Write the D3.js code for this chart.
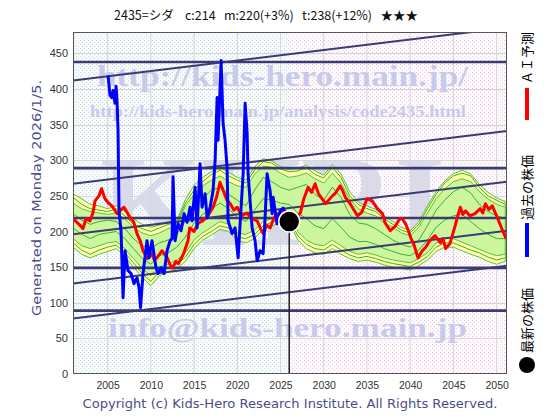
<!DOCTYPE html>
<html>
<head>
<meta charset="utf-8">
<script src="https://cdn.jsdelivr.net/npm/d3@7"></script>
<style>
  body { margin: 0; background: #fff; }
  svg { display: block; }
</style>
</head>
<body>
<svg id="chart" width="560" height="420"></svg>
<script>
// ---- data ----
const xTicks = [2005, 2010, 2015, 2020, 2025, 2030, 2035, 2040, 2045, 2050];
const yTicks = [0, 50, 100, 150, 200, 250, 300, 350, 400, 450];

const latest = {year: 2026.01, value: 214};

// horizontal support / resistance levels
const hLevels = [438, 289, 219, 149, 89];
// rising channel lines: value at 2001 and at 2051.2
const channelStart = [412, 267, 196, 127, 78];
const channelEnd = [486, 341, 270, 201, 152];

// similar-pattern band, one value per year 2001..2051
const bandYears = d3.range(2001, 2052);
const outerHi = [253, 246, 238, 236, 232, 236, 228, 218, 210, 206, 209, 214, 215, 245, 265, 276, 284, 290, 283, 276,
  272, 291, 302, 299, 291, 287, 289, 293, 285, 279, 294, 281, 256, 241, 236, 231, 222, 214, 206, 201,
  214, 236, 256, 271, 281, 286, 281, 266, 255, 247, 242];
const outerLo = [178, 168, 163, 168, 172, 176, 165, 150, 136, 124, 138, 143, 148, 158, 176, 188, 195, 203, 200, 188,
  184, 190, 203, 208, 212, 214, 188, 176, 170, 168, 176, 168, 162, 158, 160, 157, 153, 150, 148, 146,
  152, 160, 172, 178, 178, 173, 168, 164, 158, 154, 158];
const innerHi = [240, 232, 228, 226, 224, 226, 218, 206, 198, 194, 198, 204, 208, 236, 252, 264, 272, 278, 270, 264,
  262, 280, 292, 290, 282, 276, 278, 282, 274, 268, 282, 268, 246, 232, 226, 222, 212, 206, 198, 194,
  206, 226, 246, 260, 270, 274, 270, 256, 246, 238, 234];
const innerLo = [190, 180, 176, 180, 184, 186, 176, 162, 148, 138, 150, 154, 160, 170, 188, 198, 206, 214, 210, 198,
  196, 202, 214, 218, 222, 222, 200, 188, 182, 180, 188, 180, 172, 168, 170, 167, 163, 160, 158, 156,
  162, 170, 184, 190, 190, 185, 180, 175, 170, 166, 168];
const green1 = [248, 238, 232, 230, 228, 232, 222, 210, 204, 200, 205, 210, 212, 240, 258, 270, 280, 286, 278, 272,
  268, 286, 298, 296, 288, 284, 285, 290, 280, 275, 290, 276, 250, 238, 232, 228, 218, 210, 202, 198,
  210, 232, 252, 268, 278, 282, 278, 262, 250, 244, 238];
const green2 = [225, 216, 210, 214, 216, 214, 204, 190, 180, 176, 184, 188, 196, 214, 236, 246, 258, 262, 252, 244,
  236, 258, 276, 270, 262, 258, 262, 266, 252, 244, 262, 248, 224, 212, 210, 204, 196, 188, 182, 178,
  188, 208, 230, 244, 256, 262, 254, 238, 228, 222, 218];
const green3 = [205, 196, 190, 196, 198, 200, 190, 176, 162, 154, 166, 170, 178, 192, 212, 224, 232, 240, 232, 220,
  214, 230, 246, 244, 240, 238, 226, 218, 208, 204, 218, 206, 192, 186, 186, 182, 176, 172, 168, 166,
  174, 188, 206, 216, 222, 224, 214, 204, 196, 190, 190];
const green4 = [184, 174, 168, 174, 178, 181, 170, 156, 141, 130, 144, 148, 154, 164, 182, 193, 200, 208, 205, 192,
  190, 196, 208, 213, 217, 218, 194, 182, 176, 174, 182, 174, 167, 163, 165, 162, 158, 155, 153, 151,
  157, 165, 178, 184, 184, 179, 174, 170, 164, 160, 163];

// AI forecast (red) [year, value]
const aiPred = [
  [2001.0, 219], [2001.35, 214], [2001.7, 210], [2002.16, 204], [2002.5, 218], [2002.97, 215], [2003.3, 226],
  [2003.55, 243], [2004.0, 250], [2004.3, 260], [2004.7, 246], [2005.1, 240], [2005.5, 236], [2006.1, 225],
  [2006.5, 230], [2006.9, 234], [2007.3, 226], [2007.6, 219], [2008.0, 214], [2008.4, 197], [2008.8, 186],
  [2009.1, 173], [2009.6, 162], [2010.1, 169], [2010.4, 160], [2010.7, 163], [2011.3, 173], [2011.9, 163],
  [2012.2, 154], [2012.5, 149], [2012.9, 158], [2013.2, 155], [2013.8, 169], [2014.3, 187], [2014.5, 205],
  [2015.0, 200], [2015.5, 212], [2016.0, 215], [2016.6, 222], [2017.2, 234], [2017.6, 248], [2018.0, 269],
  [2018.4, 257], [2018.8, 244], [2019.2, 239], [2019.6, 230], [2020.0, 234], [2020.5, 222], [2021.1, 226],
  [2021.7, 218], [2022.3, 215], [2022.7, 204], [2023.0, 197], [2023.4, 209], [2023.8, 205], [2024.2, 218],
  [2024.6, 225], [2025.0, 221], [2025.3, 232], [2025.7, 226], [2026.1, 222], [2026.7, 218], [2027.3, 226],
  [2027.7, 246], [2028.2, 262], [2028.6, 255], [2029.0, 267], [2029.4, 253], [2029.8, 246], [2030.2, 239],
  [2030.5, 243], [2031.0, 250], [2031.3, 253], [2031.9, 264], [2032.2, 257], [2032.5, 248], [2033.0, 240],
  [2033.3, 234], [2033.9, 222], [2034.4, 227], [2034.7, 236], [2035.0, 246], [2035.6, 243], [2036.2, 232],
  [2036.8, 225], [2037.1, 212], [2037.7, 201], [2038.3, 208], [2038.8, 218], [2039.1, 218], [2039.5, 210],
  [2039.8, 201], [2040.1, 190], [2040.4, 183], [2040.9, 163], [2041.4, 173], [2041.8, 178], [2042.1, 184],
  [2042.5, 190], [2042.9, 194], [2043.5, 184], [2043.8, 190], [2044.1, 176], [2044.6, 183], [2045.2, 208],
  [2045.5, 222], [2045.8, 234], [2046.1, 224], [2046.4, 229], [2046.9, 222], [2047.5, 225], [2048.1, 232],
  [2048.4, 226], [2048.7, 239], [2049.1, 231], [2049.5, 236], [2050.1, 219], [2050.7, 201], [2051.1, 190]
];

// past price (blue) [year, value]
const pastPrice = [
  [2005.05, 419], [2005.28, 391], [2005.48, 388], [2005.63, 398], [2005.86, 380], [2005.98, 404], [2006.09, 384],
  [2006.21, 342], [2006.32, 229], [2006.56, 200], [2006.79, 107], [2007.02, 173], [2007.37, 145], [2007.71, 141],
  [2008.06, 127], [2008.41, 135], [2008.64, 121], [2008.81, 93], [2009.1, 141], [2009.56, 187], [2009.8, 163],
  [2010.14, 187], [2010.6, 149], [2010.84, 141], [2011.19, 149], [2011.53, 141], [2011.88, 173], [2012.23, 187],
  [2012.46, 190], [2012.57, 277], [2012.81, 187], [2013.15, 211], [2013.5, 201], [2013.85, 225], [2014.2, 213],
  [2014.54, 234], [2014.77, 215], [2015.12, 262], [2015.35, 205], [2015.7, 295], [2015.93, 234], [2016.28, 253],
  [2016.51, 219], [2016.86, 234], [2017.2, 257], [2017.44, 300], [2017.67, 388], [2017.78, 328], [2018.13, 440],
  [2018.36, 352], [2018.59, 328], [2018.82, 290], [2018.94, 215], [2019.4, 197], [2019.75, 205], [2020.1, 163],
  [2020.33, 211], [2020.68, 281], [2020.91, 380], [2021.14, 338], [2021.25, 281], [2021.72, 205], [2022.06, 187],
  [2022.3, 159], [2022.64, 173], [2022.99, 169], [2023.22, 220], [2023.45, 281], [2023.8, 257], [2024.03, 225],
  [2024.15, 248], [2024.6, 211], [2024.96, 229], [2025.3, 233], [2025.65, 220], [2026.01, 214]
];

// ---- drawing ----
const plotLeft = 73, plotRight = 507, plotTop = 32, plotBottom = 374;
const navy = '#3b3b74';

let svg = d3.select('#chart');

let x = d3.scaleLinear().domain([2001, 2051.2]).range([plotLeft, plotRight]);
let y = d3.scaleLinear().domain([0, 480]).range([plotBottom, plotTop]);

let defs = svg.append('defs');
defs.append('clipPath').attr('id', 'plotClip')
    .append('rect')
    .attr('x', plotLeft).attr('y', plotTop)
    .attr('width', plotRight - plotLeft).attr('height', plotBottom - plotTop);

// dotted backgrounds, faint
let pPast = defs.append('pattern').attr('id', 'pastBg')
    .attr('width', 4).attr('height', 4).attr('patternUnits', 'userSpaceOnUse');
pPast.append('rect').attr('width', 4).attr('height', 4).attr('fill', '#f7fbfb');
pPast.append('rect').attr('x', 0).attr('y', 0).attr('width', 1).attr('height', 1).attr('fill', '#bfe0e5');
pPast.append('rect').attr('x', 2).attr('y', 2).attr('width', 1).attr('height', 1).attr('fill', '#d4d4d4');

let pFut = defs.append('pattern').attr('id', 'futBg')
    .attr('width', 4).attr('height', 4).attr('patternUnits', 'userSpaceOnUse');
pFut.append('rect').attr('width', 4).attr('height', 4).attr('fill', '#fdf9fd');
pFut.append('rect').attr('x', 0).attr('y', 0).attr('width', 1).attr('height', 1).attr('fill', '#efc3ea');
pFut.append('rect').attr('x', 2).attr('y', 2).attr('width', 1).attr('height', 1).attr('fill', '#dadada');

// background
svg.append('rect')
    .attr('x', plotLeft).attr('y', plotTop)
    .attr('width', x(latest.year) - plotLeft).attr('height', plotBottom - plotTop)
    .attr('fill', 'url(#pastBg)');
svg.append('rect')
    .attr('x', x(latest.year)).attr('y', plotTop)
    .attr('width', plotRight - x(latest.year)).attr('height', plotBottom - plotTop)
    .attr('fill', 'url(#futBg)');

// grid
svg.append('g').selectAll('line')
    .data(xTicks).enter().append('line')
    .attr('x1', d => x(d)).attr('x2', d => x(d))
    .attr('y1', plotTop).attr('y2', plotBottom)
    .attr('stroke', '#d6d6d6').attr('stroke-width', 1);
svg.append('g').selectAll('line')
    .data(yTicks.slice(1)).enter().append('line')
    .attr('x1', plotLeft).attr('x2', plotRight)
    .attr('y1', d => Math.round(y(d)) + 0.5).attr('y2', d => Math.round(y(d)) + 0.5)
    .attr('stroke', '#d6d6d6').attr('stroke-width', 1);

let plot = svg.append('g').attr('clip-path', 'url(#plotClip)');

// watermarks
plot.append('text')
    .attr('x', 100).attr('y', 245)
    .attr('textLength', 345).attr('lengthAdjust', 'spacingAndGlyphs')
    .style('font', 'bold 130px "Liberation Serif", serif')
    .attr('fill', '#d4d4e6').attr('opacity', 0.8)
    .text('KHRI');
plot.append('text')
    .attr('x', 97).attr('y', 86)
    .attr('textLength', 371).attr('lengthAdjust', 'spacingAndGlyphs')
    .style('font', 'bold 30px "Liberation Serif", serif')
    .attr('fill', '#c9c9ec')
    .text('http://kids-hero.main.jp/');
plot.append('text')
    .attr('x', 90).attr('y', 117)
    .attr('textLength', 376).attr('lengthAdjust', 'spacingAndGlyphs')
    .style('font', 'bold 17px "Liberation Serif", serif')
    .attr('fill', '#c9c9ec')
    .text('http://kids-hero.main.jp/analysis/code2435.html');
plot.append('text')
    .attr('x', 108).attr('y', 337)
    .attr('textLength', 359).attr('lengthAdjust', 'spacingAndGlyphs')
    .style('font', 'bold 27px "Liberation Serif", serif')
    .attr('fill', '#c9c9ec')
    .text('info@kids-hero.main.jp');

// similar-pattern band
let area = (hi, lo) => d3.area()
    .x((d, i) => x(bandYears[i]))
    .y0((d, i) => y(lo[i]))
    .y1((d, i) => y(hi[i]));

plot.append('path')
    .attr('d', area(outerHi, outerLo)(bandYears))
    .attr('fill', '#ffffaa')
    .attr('stroke', '#55c040').attr('stroke-width', 1);
plot.append('path')
    .attr('d', area(innerHi, innerLo)(bandYears))
    .attr('fill', '#c6f59c').attr('fill-opacity', 0.9)
    .attr('stroke', '#55c040').attr('stroke-width', 1);

let gLine = d3.line().x((d, i) => x(bandYears[i])).y(d => y(d));
[green1, green2, green3, green4].forEach(s => {
    plot.append('path')
        .attr('d', gLine(s))
        .attr('fill', 'none')
        .attr('stroke', '#3cb030').attr('stroke-width', 1);
});

// horizontal levels
plot.append('g').selectAll('line')
    .data(hLevels).enter().append('line')
    .attr('x1', plotLeft).attr('x2', plotRight)
    .attr('y1', d => y(d)).attr('y2', d => y(d))
    .attr('stroke', navy).attr('stroke-width', 2.6);

// channel lines
plot.append('g').selectAll('line')
    .data(channelStart).enter().append('line')
    .attr('x1', x(2001)).attr('x2', x(2051.2))
    .attr('y1', d => y(d)).attr('y2', (d, i) => y(channelEnd[i]))
    .attr('stroke', navy).attr('stroke-width', 2);

let line = d3.line().x(d => x(d[0])).y(d => y(d[1]));

// AI forecast
plot.append('path')
    .attr('d', line(aiPred))
    .attr('fill', 'none')
    .attr('stroke', '#ff0000').attr('stroke-width', 3)
    .attr('stroke-linejoin', 'round');

// past price
plot.append('path')
    .attr('d', line(pastPrice))
    .attr('fill', 'none')
    .attr('stroke', '#0000ff').attr('stroke-width', 3)
    .attr('stroke-linejoin', 'round');

// latest price marker
svg.append('line')
    .attr('x1', x(latest.year)).attr('x2', x(latest.year))
    .attr('y1', y(latest.value)).attr('y2', plotBottom)
    .attr('stroke', '#222').attr('stroke-width', 1.5);
svg.append('circle')
    .attr('cx', x(latest.year)).attr('cy', y(latest.value))
    .attr('r', 10.5)
    .attr('fill', '#000').attr('stroke', '#fff').attr('stroke-width', 1.5);

// frame
svg.append('rect')
    .attr('x', plotLeft + 0.5).attr('y', plotTop + 0.5)
    .attr('width', plotRight - plotLeft - 1).attr('height', plotBottom - plotTop - 1)
    .attr('fill', 'none').attr('stroke', '#555').attr('stroke-width', 1);

// axes
let yAxis = svg.append('g')
    .attr('transform', 'translate(' + plotLeft + ',0)')
    .call(d3.axisLeft(y).tickValues(yTicks).tickSize(0).tickPadding(5));
yAxis.select('.domain').remove();
yAxis.selectAll('text')
    .style('font', '11px "Liberation Sans", Arial, sans-serif')
    .attr('fill', '#333');

let xAxis = svg.append('g')
    .attr('transform', 'translate(0,' + plotBottom + ')')
    .call(d3.axisBottom(x).tickValues(xTicks).tickFormat(d3.format('d')).tickSize(0).tickPadding(8));
xAxis.select('.domain').remove();
xAxis.selectAll('text')
    .style('font', '10.5px "Liberation Sans", Arial, sans-serif')
    .attr('fill', '#333');

// title
svg.append('text')
    .attr('x', 266).attr('y', 20)
    .attr('text-anchor', 'middle')
    .style('font', '12.5px "Noto Sans CJK JP", sans-serif')
    .style('white-space', 'pre')
    .attr('fill', '#111')
    .text('2435=シダ    c:214   m:220(+3%)   t:238(+12%)   ★★★');

// side texts
svg.append('text')
    .attr('transform', 'translate(41,198) rotate(-90)')
    .attr('text-anchor', 'middle')
    .attr('textLength', 236).attr('lengthAdjust', 'spacingAndGlyphs')
    .style('font', '13px "DejaVu Sans", sans-serif')
    .attr('fill', '#4c4c8c')
    .text('Generated on Monday 2026/1/5.');

svg.append('text')
    .attr('x', 290).attr('y', 408)
    .attr('text-anchor', 'middle')
    .attr('textLength', 415).attr('lengthAdjust', 'spacingAndGlyphs')
    .style('font', '12.5px "DejaVu Sans", sans-serif')
    .attr('fill', '#4c4c8c')
    .text('Copyright (c) Kids-Hero Research Institute. All Rights Reserved.');

// legend
const legendItems = [
    {label: 'ＡＩ予測', color: '#ff0000', textEnd: 84, markTop: 88, markBottom: 120},
    {label: '過去の株価', color: '#0000ff', textEnd: 220, markTop: 223, markBottom: 257},
    {label: '最新の株価', color: '#000', textEnd: 353, dot: 365}
];
legendItems.forEach(d => {
    if (d.dot) {
        svg.append('circle')
            .attr('cx', 527).attr('cy', d.dot).attr('r', 8)
            .attr('fill', d.color);
    } else {
        svg.append('rect')
            .attr('x', 525).attr('y', d.markTop)
            .attr('width', 4).attr('height', d.markBottom - d.markTop)
            .attr('fill', d.color);
    }
    svg.append('text')
        .attr('transform', 'translate(532,' + d.textEnd + ') rotate(-90)')
        .style('font', '13px "Noto Sans CJK JP", sans-serif')
        .attr('fill', '#000')
        .text(d.label);
});
</script>
</body>
</html>
